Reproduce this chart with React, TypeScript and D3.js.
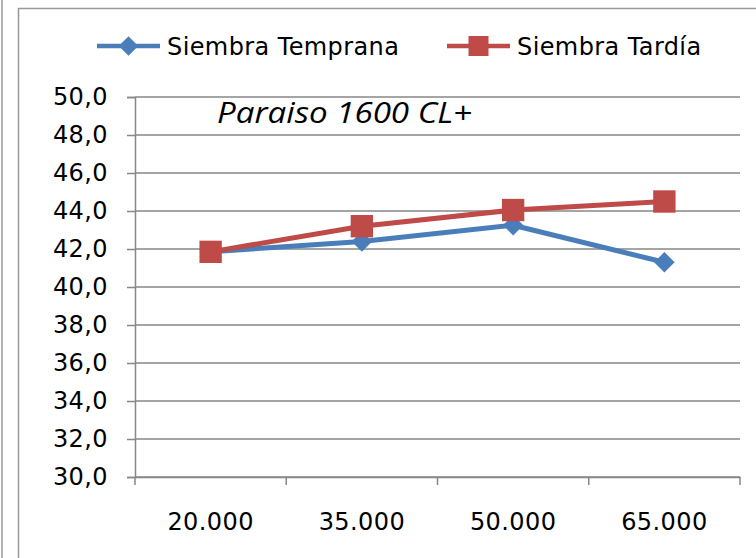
import React, { useEffect, useRef } from 'react';
import * as d3 from 'd3';

// plant densities (x categories) and yields per sowing date
const DENSITIES = ['20.000', '35.000', '50.000', '65.000'];
const TEMPRANA = [41.85, 42.4, 43.25, 41.3];
const TARDIA = [41.85, 43.2, 44.05, 44.5];
const Y_TICKS = [30, 32, 34, 36, 38, 40, 42, 44, 46, 48, 50];

const SERIES = [
  { name: 'Siembra Temprana', values: TEMPRANA, color: '#4A7EBB', shape: 'diamond' },
  { name: 'Siembra Tardía', values: TARDIA, color: '#BE4B48', shape: 'square' },
];

const W = 756;
const H = 558;
const FONT = '"DejaVu Sans", Verdana, sans-serif';

export default function App() {
  const ref = useRef(null);

  useEffect(() => {
    const el = ref.current;
    d3.select(el).selectAll('*').remove();

    const margin = { left: 135, right: 16, top: 97, bottom: 81 };
    const innerW = W - margin.left - margin.right;
    const innerH = H - margin.top - margin.bottom;

    const svg = d3
      .select(el)
      .append('svg')
      .attr('width', W)
      .attr('height', H)
      .style('display', 'block')
      .style('background', '#fff');

    // outer frames
    svg.append('line')
      .attr('x1', 2).attr('x2', 2).attr('y1', 0).attr('y2', H)
      .attr('stroke', '#999').attr('stroke-width', 1.5);
    svg.append('rect')
      .attr('x', 18.5).attr('y', 8.5).attr('width', 800).attr('height', 600)
      .attr('fill', 'none').attr('stroke', '#999').attr('stroke-width', 1.5);

    const x = d3.scaleBand().domain(DENSITIES).range([0, innerW]);
    const y = d3.scaleLinear().domain([30, 50]).range([innerH, 0]);

    const g = svg.append('g').attr('transform', `translate(${margin.left},${margin.top})`);

    // gridlines
    g.selectAll('line.grid')
      .data(Y_TICKS)
      .join('line')
      .attr('class', 'grid')
      .attr('x1', 0)
      .attr('x2', innerW)
      .attr('y1', (d) => y(d))
      .attr('y2', (d) => y(d))
      .attr('stroke', '#878787')
      .attr('stroke-width', 1.5);

    // y axis
    const yAxis = g.append('g').call(
      d3.axisLeft(y)
        .tickValues(Y_TICKS)
        .tickSize(8)
        .tickPadding(19)
        .tickFormat((v) => d3.format('.1f')(v).replace('.', ',')),
    );
    yAxis.select('.domain').attr('stroke', '#878787').attr('stroke-width', 1.5);
    yAxis.selectAll('.tick line').attr('stroke', '#878787').attr('stroke-width', 1.5);
    yAxis.selectAll('text')
      .attr('fill', '#000')
      .attr('font-size', '24px')
      .attr('letter-spacing', '0.4px')
      .attr('font-family', FONT);

    // x axis, ticks on category boundaries
    const xAxis = g.append('g').attr('transform', `translate(0,${innerH})`).call(
      d3.axisBottom(x).tickSize(0).tickPadding(36),
    );
    xAxis.select('.domain').attr('stroke', '#878787').attr('stroke-width', 1.5);
    xAxis.selectAll('text')
      .attr('fill', '#000')
      .attr('font-size', '24px')
      .attr('letter-spacing', '0.4px')
      .attr('font-family', FONT);
    const bounds = [...DENSITIES.map((d) => x(d)), innerW];
    xAxis.selectAll('line.bound')
      .data(bounds)
      .join('line')
      .attr('class', 'bound')
      .attr('x1', (d) => d)
      .attr('x2', (d) => d)
      .attr('y1', 0)
      .attr('y2', 8)
      .attr('stroke', '#878787')
      .attr('stroke-width', 1.5);

    const cx = (i) => x(DENSITIES[i]) + x.bandwidth() / 2;
    const diamond = d3.symbol(d3.symbolSquare, 210)();
    const square = d3.symbol(d3.symbolSquare, 500)();

    SERIES.forEach((s) => {
      const line = d3.line()
        .x((_, i) => cx(i))
        .y((d) => y(d));
      g.append('path')
        .datum(s.values)
        .attr('d', line)
        .attr('fill', 'none')
        .attr('stroke', s.color)
        .attr('stroke-width', 5)
        .attr('stroke-linejoin', 'round');

      g.selectAll(null)
        .data(s.values)
        .join('path')
        .attr('d', s.shape === 'diamond' ? diamond : square)
        .attr('transform', (d, i) =>
          `translate(${cx(i)},${y(d)})${s.shape === 'diamond' ? ' rotate(45)' : ''}`)
        .attr('fill', s.color);
    });

    // legend
    const legendY = 46;
    const legendX = [97, 447];
    SERIES.forEach((s, i) => {
      const lg = svg.append('g').attr('transform', `translate(${legendX[i]},${legendY})`);
      lg.append('line')
        .attr('x1', 0).attr('x2', 63)
        .attr('stroke', s.color).attr('stroke-width', 4.5);
      lg.append('path')
        .attr('d', s.shape === 'diamond' ? d3.symbol(d3.symbolSquare, 190)() : d3.symbol(d3.symbolSquare, 400)())
        .attr('transform', `translate(31.5,0)${s.shape === 'diamond' ? ' rotate(45)' : ''}`)
        .attr('fill', s.color);
      lg.append('text')
        .attr('x', 70)
        .attr('y', 9)
        .attr('font-size', '24px')
        .attr('letter-spacing', '0.4px')
        .attr('font-family', FONT)
        .attr('fill', '#000')
        .text(s.name);
    });

    // in-plot title
    svg.append('text')
      .attr('x', 217)
      .attr('y', 123)
      .attr('font-size', '29px')
      .attr('font-style', 'italic')
      .attr('font-family', '"Open Sans", sans-serif')
      .attr('textLength', 255)
      .attr('lengthAdjust', 'spacingAndGlyphs')
      .attr('fill', '#000')
      .text('Paraiso 1600 CL+');
  }, []);

  return (
    <div style={{ position: 'absolute', left: 0, top: 0, width: W, height: H }}>
      <div ref={ref} />
    </div>
  );
}
